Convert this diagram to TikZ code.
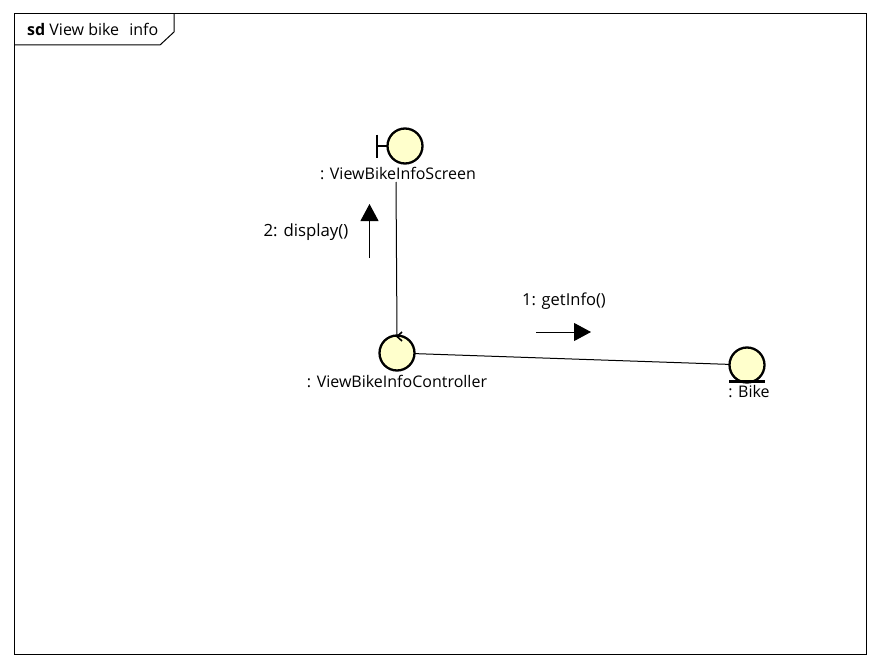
\documentclass[tikz,border=0pt]{standalone}
\usepackage{fontspec}
\setmainfont{Open Sans}
\usetikzlibrary{arrows.meta}
\definecolor{objfill}{RGB}{255,255,204}
\tikzset{
  x=1pt,y=-1pt,
  obj/.style={circle,draw=black,line width=2.3pt,fill=objfill,minimum size=35pt,inner sep=0pt,outer sep=0pt},
  lab/.style={font=\fontsize{16}{18}\selectfont,inner sep=0pt,text=black},
  stroke/.style={draw=black,line width=1pt},
  thick stroke/.style={draw=black,line width=2.3pt},
  msg/.style={stroke,-{Triangle[length=17pt,width=18pt]}}
}
\begin{document}
\begin{tikzpicture}
\useasboundingbox (0,0) rectangle (880,666);
\fill[white] (0,0) rectangle (880,666);
\draw[stroke] (14,14) rectangle (866,654);
\draw[stroke] (14,45) -- (160,45) -- (174,32) -- (174,14);
\node[lab,anchor=base west] (title) at (27,36) {\textbf{sd} View bike\hspace{6pt} info};

\node[obj] (screen) at (405,146) {};
\coordinate (bndtop) at (377,134.5);
\coordinate (bndbot) at (377,157.5);
\coordinate (bnd) at (377,146);
\draw[thick stroke] (bndtop) -- (bndbot);
\draw[thick stroke] (bnd) -- (screen.west);
\node[lab] (screenlab) at (398,173) {: ViewBikeInfoScreen};

\node[obj] (ctrl) at (397,353) {};
\coordinate (tka) at (402,332);
\coordinate (tkb) at (397,336.5);
\coordinate (tkc) at (402,341);
\draw[draw=black,line width=1.6pt] (tka) -- (tkb) -- (tkc);
\node[lab] (ctrllab) at (397,381) {: ViewBikeInfoController};

\node[obj] (bike) at (747,365) {};
\coordinate (bka) at (729,381.5);
\coordinate (bkb) at (765,381.5);
\draw[thick stroke] (bka) -- (bkb);
\node[lab] (bikelab) at (749,392) {: Bike};

\coordinate (screenfoot) at (396,182);
\draw[stroke] (screenfoot) -- (ctrl.north);
\draw[stroke] (ctrl) -- (bike);

\coordinate (m2a) at (369.5,258);
\coordinate (m2b) at (369.5,204);
\draw[msg] (m2a) -- (m2b);
\node[lab,font=\fontsize{16.8}{18}\selectfont] (m2lab) at (306,232) {2: display()};

\coordinate (m1a) at (536,332);
\coordinate (m1b) at (591,332);
\draw[msg] (m1a) -- (m1b);
\node[lab,font=\fontsize{16.5}{18}\selectfont] (m1lab) at (564,301) {1: getInfo()};
\end{tikzpicture}
\end{document}
